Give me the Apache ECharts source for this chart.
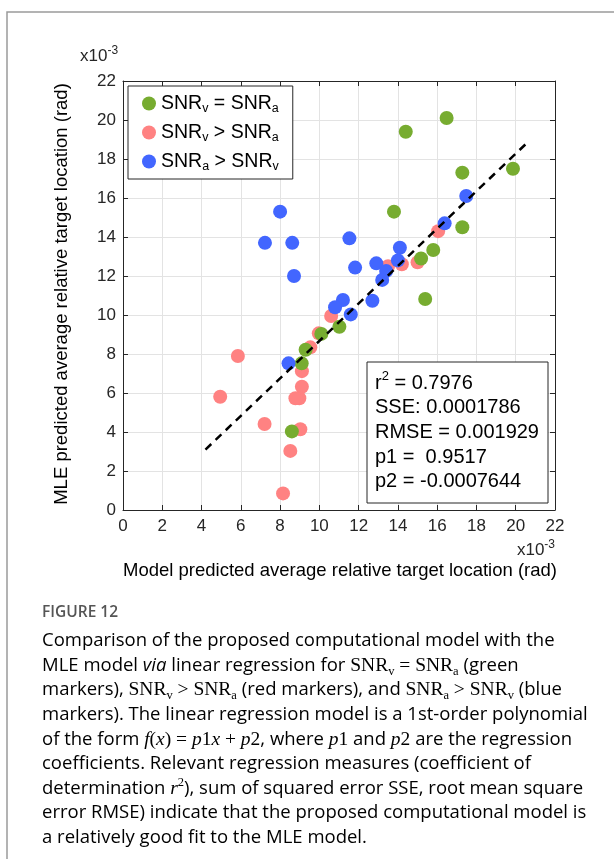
<!DOCTYPE html>
<html><head><meta charset="utf-8">
<script src="https://cdn.jsdelivr.net/npm/echarts@6/dist/echarts.min.js"></script>
<style>html,body{margin:0;padding:0;background:#fff}#c{width:614px;height:859px}</style>
</head><body><div id="c"></div>
<script>
// values in units of 1e-3 rad
const greenX = [16.48, 14.40, 17.28, 19.86, 13.80, 17.28, 15.80, 15.18, 15.39, 11.02, 10.10, 9.30, 9.10, 8.60];
const greenY = [20.10, 19.40, 17.30, 17.50, 15.30, 14.50, 13.33, 12.90, 10.82, 9.40, 9.03, 8.22, 7.52, 4.03];
const redX = [16.05, 15.00, 14.20, 13.50, 10.60, 9.97, 9.54, 5.85, 9.11, 9.11, 4.95, 8.98, 8.78, 7.21, 9.03, 8.52, 8.15];
const redY = [14.30, 12.70, 12.60, 12.50, 9.95, 9.06, 8.34, 7.90, 7.12, 6.32, 5.81, 5.73, 5.73, 4.41, 4.14, 3.03, 0.85];
const blueX = [8.00, 7.23, 8.62, 8.71, 17.48, 16.38, 11.53, 14.10, 14.00, 12.90, 11.82, 13.40, 13.20, 12.70, 11.20, 10.80, 11.60, 8.43];
const blueY = [15.30, 13.70, 13.70, 12.00, 16.10, 14.70, 13.93, 13.45, 12.80, 12.65, 12.43, 12.26, 11.80, 10.73, 10.77, 10.40, 10.03, 7.52];
const fitX = [4.2, 20.6];
const fitY = [3.1, 18.85];
const axisMin = 0, axisMax = 22, axisStep = 2;
const statLines = ["r{sup|2} = 0.7976", "SSE: 0.0001786", "RMSE = 0.001929", "p1 =  0.9517", "p2 = -0.0007644"];
const legendNames = {
  eq: "SNR{sub|v} = SNR{sub|a}",
  va: "SNR{sub|v} > SNR{sub|a}",
  av: "SNR{sub|a} > SNR{sub|v}"
};
const xName = "Model predicted average relative target location (rad)";
const yName = "MLE predicted average relative target location (rad)";

const pairs = (xs, ys) => xs.map((x, i) => [x, ys[i]]);
const AX = '#262626';
const F = 'Liberation Sans';
const CF = 'Open Sans';
const MF = 'Liberation Serif';

function mkAxis(pos, showLabel, isX) {
  return {
    type: 'value', min: axisMin, max: axisMax, interval: axisStep, position: pos,
    axisLine: {show: true, onZero: false, lineStyle: {color: AX, width: 1}},
    axisTick: {show: true, inside: true, length: 5, lineStyle: {color: AX}},
    axisLabel: {show: showLabel, fontSize: 17, color: AX, fontFamily: F, margin: isX ? 8 : 7},
    splitLine: {show: showLabel, lineStyle: {color: '#e3e3e3', width: 1}}
  };
}

const CC = '#6e6e6e';
const capRich = {
  n: {fontFamily: CF, fontSize: 18.5, color: CC},
  i: {fontFamily: CF, fontSize: 18.5, color: CC, fontStyle: 'italic'},
  m: {fontFamily: MF, fontSize: 19.5, color: CC},
  mi: {fontFamily: MF, fontSize: 19.5, color: CC, fontStyle: 'italic'},
  ms: {fontFamily: MF, fontSize: 12.5, color: CC, verticalAlign: 'bottom', lineHeight: 25},
  mp: {fontFamily: MF, fontSize: 12.5, color: CC, verticalAlign: 'top', lineHeight: 25}
};
const capLines = [
  "{n|Comparison of the proposed computational model with the}",
  "{n|MLE model }{i|via}{n| linear regression for }{m|SNR}{ms|v}{m| = SNR}{ms|a}{n| (green}",
  "{n|markers), }{m|SNR}{ms|v}{m| > SNR}{ms|a}{n| (red markers), and }{m|SNR}{ms|a}{m| > SNR}{ms|v}{n| (blue}",
  "{n|markers). The linear regression model is a 1st-order polynomial}",
  "{n|of the form }{mi|f}{m|(}{mi|x}{m|) = }{mi|p}{m|1}{mi|x}{m| + }{mi|p}{m|2}{n|, where }{mi|p}{m|1}{n| and }{mi|p}{m|2}{n| are the regression}",
  "{n|coefficients. Relevant regression measures (coefficient of}",
  "{n|determination }{mi|r}{mp|2}{n|), sum of squared error SSE, root mean square}",
  "{n|error RMSE) indicate that the proposed computational model is}",
  "{n|a relatively good fit to the MLE model.}"
];

const graphics = [
  {type: 'rect', shape: {x: 7, y: 12, width: 700, height: 900}, style: {fill: 'none', stroke: '#9a9a9a', lineWidth: 1.5}, silent: true},
  {type: 'text', x: 340, y: 571, style: {text: xName, font: '18.5px ' + F, fill: '#000', align: 'center', verticalAlign: 'middle'}},
  {type: 'text', x: 62, y: 294, rotation: Math.PI / 2, style: {text: yName, font: '18.5px ' + F, fill: '#000', align: 'center', verticalAlign: 'middle'}},
  {type: 'text', x: 555, y: 550, style: {text: 'x10{sup|-3}', font: '17px ' + F, fill: AX, align: 'right', verticalAlign: 'middle',
    rich: {sup: {fontSize: 12, fontFamily: F, fill: AX, verticalAlign: 'top', lineHeight: 22}}}},
  {type: 'text', x: 80, y: 56, style: {text: 'x10{sup|-3}', font: '17px ' + F, fill: AX, align: 'left', verticalAlign: 'middle',
    rich: {sup: {fontSize: 12, fontFamily: F, fill: AX, verticalAlign: 'top', lineHeight: 22}}}},
  {type: 'rect', z: 100, shape: {x: 367, y: 362, width: 181, height: 141}, style: {fill: '#fff', stroke: AX, lineWidth: 1}},
  {type: 'text', x: 42, y: 613, style: {text: 'FIGURE 12', font: '600 15.5px ' + CF, fill: '#555', align: 'left', verticalAlign: 'middle'}}
];
statLines.forEach((t, k) => graphics.push({type: 'text', z: 101, x: 375, y: 383 + k * 24.7,
  style: {text: t, font: '20px ' + F, fill: '#000', align: 'left', verticalAlign: 'middle',
    rich: {sup: {fontSize: 13, fontFamily: F, fill: '#000', verticalAlign: 'top', lineHeight: 26}}}}));
capLines.forEach((t, k) => graphics.push({type: 'text', x: 42, y: 641 + k * 24.6,
  style: {text: t, align: 'left', verticalAlign: 'middle', rich: capRich}}));

const mk = (name, xs, ys, color, z) => ({
  name, type: 'scatter', data: pairs(xs, ys), symbol: 'circle', symbolSize: 14, z,
  itemStyle: {color, opacity: 1}, emphasis: {disabled: true}
});

const chart = echarts.init(document.getElementById('c'), null, {renderer: 'canvas'});
chart.setOption({
  animation: false,
  backgroundColor: '#fff',
  grid: {left: 123, right: 59, top: 81, bottom: 349, containLabel: false},
  xAxis: [mkAxis('bottom', true, true), mkAxis('top', false, true)],
  yAxis: [mkAxis('left', true, false), mkAxis('right', false, false)],
  legend: {
    data: ['eq', 'va', 'av'], orient: 'vertical', left: 128, top: 86,
    formatter: n => legendNames[n],
    icon: 'circle', itemWidth: 14, itemHeight: 14, itemGap: 6,
    padding: [6, 14, 6, 14], borderColor: AX, borderWidth: 1, backgroundColor: '#fff',
    textStyle: {fontSize: 19.5, fontFamily: F, color: '#000', lineHeight: 22,
      rich: {sub: {fontSize: 12.5, fontFamily: F, color: '#000', verticalAlign: 'bottom', lineHeight: 23}}}
  },
  series: [
    mk('eq', greenX, greenY, '#77ac30', 3),
    mk('va', redX, redY, '#ff8282', 2),
    mk('av', blueX, blueY, '#4266ff', 4),
    {type: 'line', data: pairs(fitX, fitY), symbol: 'none', z: 5, silent: true,
      lineStyle: {color: '#000', width: 2.5, type: [8, 6]}}
  ],
  graphic: graphics
});
</script></body></html>
